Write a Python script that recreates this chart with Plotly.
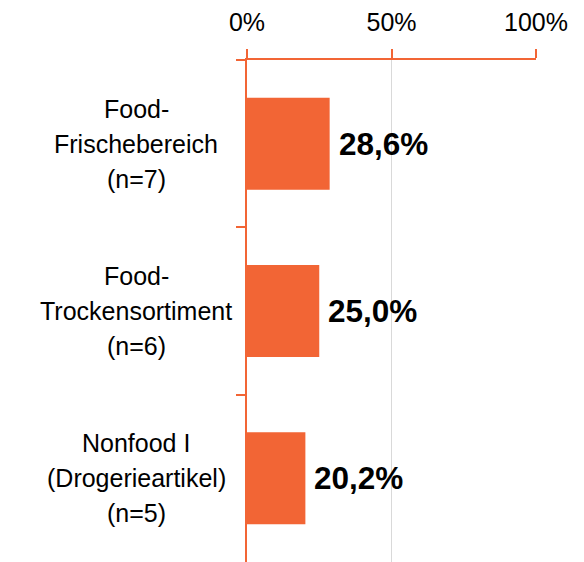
import plotly.graph_objects as go

categories = ["Food-Frischebereich", "Food-Trockensortiment", "Nonfood I"]
label_lines = [
    ["Food-", "Frischebereich", "(n=7)"],
    ["Food-", "Trockensortiment", "(n=6)"],
    ["Nonfood I", "(Drogerieartikel)", "(n=5)"],
]
values = [28.6, 25.0, 20.2]
tick_vals = [0, 50, 100]
tick_text = ["0%", "50%", "100%"]

ORANGE = "#F26535"
FONT = "Liberation Sans, Arial, sans-serif"

fig = go.Figure()
fig.add_trace(go.Bar(
    x=values, y=categories, orientation="h",
    marker=dict(color=ORANGE, line=dict(width=0)),
    hoverinfo="skip",
))

annotations = []
for cat, v in zip(categories, values):
    annotations.append(dict(
        x=v, y=cat, xref="x", yref="y", xanchor="left", yanchor="middle",
        xshift=7, showarrow=False,
        text="<b>" + f"{v:.1f}".replace(".", ",") + "%</b>",
        font=dict(family=FONT, size=31.5, color="black"),
    ))
for cat, lines in zip(categories, label_lines):
    for k, line in enumerate(lines):
        annotations.append(dict(
            x=-0.384, y=cat, xref="paper", yref="y", xanchor="center", yanchor="middle",
            yshift=35 * (1 - k), showarrow=False, text=line,
            font=dict(family=FONT, size=25, color="black"),
        ))

fig.update_layout(
    width=584, height=562,
    margin=dict(l=239, r=56, t=52, b=8, pad=0, autoexpand=False),
    plot_bgcolor="white", paper_bgcolor="white",
    bargap=0.45, showlegend=False,
    annotations=annotations,
    font=dict(family=FONT, size=25, color="black"),
)
fig.update_xaxes(
    side="top", range=[0, 100], tickvals=tick_vals, ticktext=tick_text,
    showgrid=True, gridcolor="#D9D9D9", gridwidth=1,
    showline=True, linecolor=ORANGE, linewidth=2,
    ticks="outside", ticklen=9, tickwidth=2, tickcolor=ORANGE,
    ticklabelstandoff=8, automargin=False,
    tickfont=dict(family=FONT, size=25, color="black"),
    zeroline=False, fixedrange=True,
)
fig.update_yaxes(
    categoryorder="array", categoryarray=categories, autorange="reversed",
    showticklabels=False, showgrid=False, automargin=False,
    showline=True, linecolor=ORANGE, linewidth=2,
    ticks="outside", tickson="boundaries", ticklen=9, tickwidth=2, tickcolor=ORANGE,
    zeroline=False, fixedrange=True,
)

fig.write_html("out.html", config={"displayModeBar": False})
